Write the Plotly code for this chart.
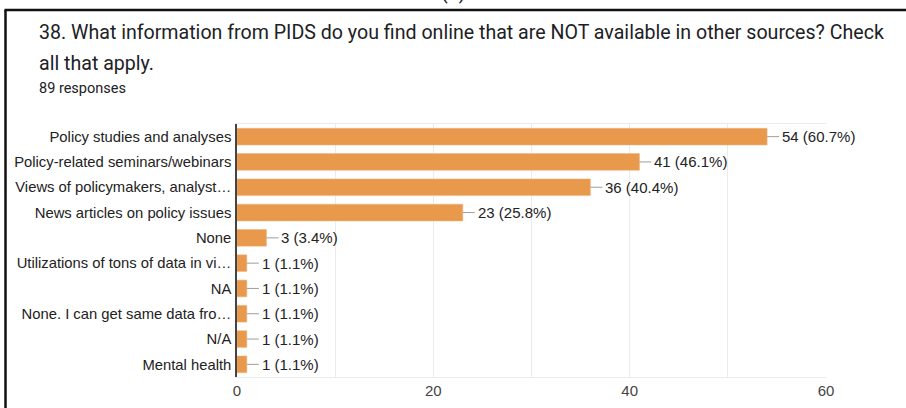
import plotly.graph_objects as go

# survey question 38, 89 responses
CATEGORIES = [
    "Policy studies and analyses",
    "Policy-related seminars/webinars",
    "Views of policymakers, analyst…",
    "News articles on policy issues",
    "None",
    "Utilizations of tons of data in vi…",
    "NA",
    "None. I can get same data fro…",
    "N/A",
    "Mental health",
]
COUNTS = [54, 41, 36, 23, 3, 1, 1, 1, 1, 1]
PERCENTS = [60.7, 46.1, 40.4, 25.8, 3.4, 1.1, 1.1, 1.1, 1.1, 1.1]
X_TICKS = [0, 20, 40, 60]

W, H = 906, 408
L, R, T, B = 237, 826, 124, 377  # plot area in pixels


def px(x):
    return (x - L) / (R - L)


def py(y):
    return (B - y) / (B - T)


CHART_FONT = "Liberation Sans, Arial, sans-serif"

fig = go.Figure(
    go.Bar(
        x=COUNTS,
        y=CATEGORIES,
        orientation="h",
        marker=dict(color="#E8994C", line=dict(color="#F0B27A", width=0.5)),
        hoverinfo="skip",
    )
)

for cat, n, p in zip(CATEGORIES, COUNTS, PERCENTS):
    fig.add_annotation(
        x=n, y=cat, text=f"{n} ({p:.1f}%)",
        showarrow=True, arrowhead=0, arrowwidth=1, arrowcolor="#9e9e9e",
        ax=13, ay=0, xanchor="left", standoff=0, startstandoff=1,
        font=dict(family=CHART_FONT, size=15, color="#222222"),
    )

title_font = dict(family="Roboto, sans-serif", size=19.6, color="#202124")
# cut-off label above the card
fig.add_annotation(
    text="(5)", x=px(453), y=py(6), xref="paper", yref="paper",
    xanchor="center", yanchor="bottom", showarrow=False, font=title_font,
)
fig.add_annotation(
    text="38. What information from PIDS do you find online that are NOT available in other sources? Check",
    x=px(37), y=py(32), xref="paper", yref="paper", xanchor="left", yanchor="middle",
    showarrow=False, font=title_font,
)
fig.add_annotation(
    text="all that apply.", x=px(37), y=py(63), xref="paper", yref="paper",
    xanchor="left", yanchor="middle", showarrow=False, font=title_font,
)
fig.add_annotation(
    text="89 responses", x=px(37), y=py(89), xref="paper", yref="paper",
    xanchor="left", yanchor="middle", showarrow=False,
    font=dict(family="Roboto, sans-serif", size=14.5, color="#202124"),
)

# black frame of the screenshot card (top and left edges)
fig.add_shape(
    type="line", xref="paper", yref="paper",
    x0=px(5.5), x1=px(5.5), y0=py(408), y1=py(10),
    line=dict(color="#111111", width=2.5),
)
fig.add_shape(
    type="line", xref="paper", yref="paper",
    x0=px(4.5), x1=px(906), y0=py(10), y1=py(10),
    line=dict(color="#111111", width=2.5),
)

fig.update_layout(
    width=W, height=H,
    margin=dict(l=L, r=W - R, t=T, b=H - B, autoexpand=False),
    paper_bgcolor="white", plot_bgcolor="white",
    showlegend=False, bargap=0.34,
    font=dict(family=CHART_FONT, size=15, color="#222222"),
    xaxis=dict(
        range=[0, 60], tickvals=X_TICKS, ticktext=[str(v) for v in X_TICKS],
        showgrid=True, gridcolor="#ebebeb", gridwidth=1,
        minor=dict(dtick=10, showgrid=True, gridcolor="#ebebeb", gridwidth=1),
        showline=True, linecolor="#ebebeb", linewidth=1, mirror=True,
        zeroline=False, automargin=False, tickfont=dict(size=15, color="#444444"),
    ),
    yaxis=dict(
        autorange="reversed", showgrid=False, zeroline=False,
        showline=True, linecolor="#444444", linewidth=1.5, automargin=False,
        ticks="", ticklabelstandoff=1, tickfont=dict(size=14.8, color="#222222"),
    ),
)

# drop the default page margin so the figure sits at the window's corner
fig.write_html(
    "out.html",
    config={"displayModeBar": False},
    post_script="document.body.style.margin='0';document.body.style.overflow='hidden';",
)
